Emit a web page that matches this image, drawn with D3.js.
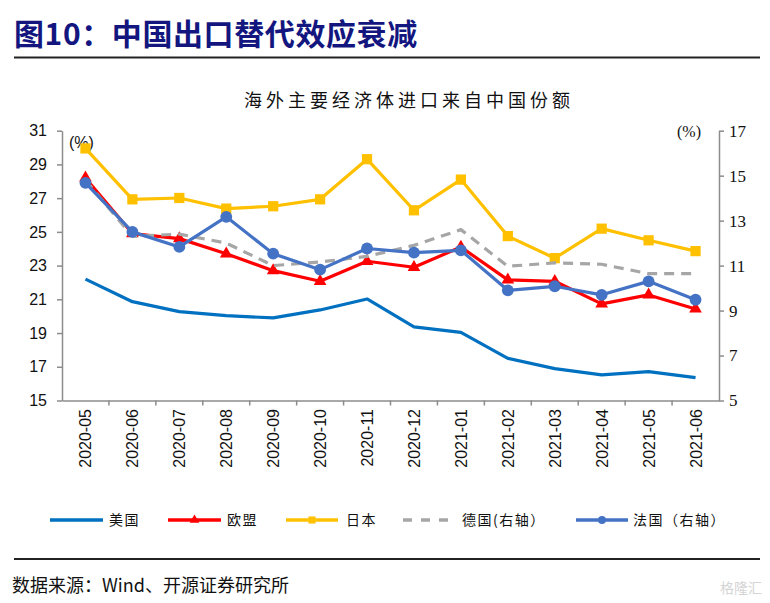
<!DOCTYPE html>
<html>
<head>
<meta charset="utf-8">
<script src="https://cdn.jsdelivr.net/npm/d3@7"></script>
<style>
  body { margin: 0; background: #fff; }
  svg { display: block; }
</style>
</head>
<body>
<svg id="chart" width="770" height="603"></svg>
<script>
const months = ["2020-05","2020-06","2020-07","2020-08","2020-09","2020-10","2020-11","2020-12","2021-01","2021-02","2021-03","2021-04","2021-05","2021-06"];
const usa     = [22.2, 20.86, 20.27, 20.03, 19.9, 20.37, 21.02, 19.37, 19.04, 17.5, 16.89, 16.52, 16.71, 16.36];
const eu      = [28.2, 24.9, 24.6, 23.7, 22.7, 22.07, 23.26, 22.9, 24.1, 22.15, 22.07, 20.73, 21.26, 20.43];
const japan   = [29.95, 26.93, 27.01, 26.38, 26.52, 26.93, 29.31, 26.28, 28.1, 24.75, 23.44, 25.19, 24.5, 23.86];
const germany = [14.8, 12.3, 12.4, 12.0, 11.0, 11.16, 11.41, 11.9, 12.6, 10.97, 11.12, 11.06, 10.64, 10.64];
const france  = [14.68, 12.5, 11.83, 13.17, 11.53, 10.82, 11.76, 11.58, 11.68, 9.9, 10.08, 9.7, 10.3, 9.48];
const leftTicks = [15, 17, 19, 21, 23, 25, 27, 29, 31];
const rightTicks = [5, 7, 9, 11, 13, 15, 17];

const svg = d3.select("#chart");
const L = 62, R = 719, T = 130.7, B = 400.5;

const x = d3.scaleBand().domain(months).range([L, R]);
const yL = d3.scaleLinear().domain([15, 31]).range([B, T]);
const yR = d3.scaleLinear().domain([5, 17]).range([B, T]);

// Title
svg.append("text").attr("x", 14).attr("y", 45)
  .attr("font-family", "'Noto Sans CJK SC', sans-serif").attr("font-weight", "bold")
  .attr("font-size", 30).attr("letter-spacing", 0.6).attr("fill", "#13167f").text("图10：中国出口替代效应衰减");
svg.append("line").attr("x1", 14).attr("x2", 760).attr("y1", 57.5).attr("y2", 57.5)
  .attr("stroke", "#222").attr("stroke-width", 2.2);

// Subtitle
svg.append("text").attr("x", 409).attr("y", 107).attr("text-anchor", "middle")
  .attr("font-family", "'Noto Sans CJK SC', sans-serif").attr("font-size", 18)
  .attr("letter-spacing", 4).attr("fill", "#111").text("海外主要经济体进口来自中国份额");

const axisColor = "#8c8c8c";
function styleAxis(g) {
  g.selectAll("path.domain").attr("stroke", axisColor).attr("stroke-width", 1.5);
  g.selectAll(".tick line").attr("stroke", axisColor).attr("stroke-width", 1.5);
}

// Left axis
const gL = svg.append("g").attr("transform", `translate(${L},0)`)
  .call(d3.axisLeft(yL).tickValues(leftTicks).tickSize(5).tickSizeOuter(0).tickPadding(10));
styleAxis(gL);
gL.selectAll(".tick text").attr("font-family", "Arial, 'Liberation Sans', sans-serif")
  .attr("font-size", 16).attr("fill", "#111");

// Right axis
const gR = svg.append("g").attr("transform", `translate(${R},0)`)
  .call(d3.axisRight(yR).tickValues(rightTicks).tickSize(5).tickSizeOuter(0).tickPadding(5));
styleAxis(gR);
gR.selectAll(".tick text").attr("font-family", "'Liberation Serif', 'Times New Roman', serif")
  .attr("font-size", 17).attr("fill", "#111");

// Bottom axis with ticks at band boundaries
const gB = svg.append("g").attr("transform", `translate(0,${B})`)
  .call(d3.axisBottom(x).tickSize(0).tickFormat(""));
styleAxis(gB);
gB.selectAll(".boundary").data(months.slice(1)).enter().append("line")
  .attr("x1", d => x(d)).attr("x2", d => x(d)).attr("y1", 0).attr("y2", 5)
  .attr("stroke", axisColor).attr("stroke-width", 1.5);
svg.selectAll(".xlab").data(months).enter().append("text")
  .attr("transform", d => `translate(${x(d) + x.bandwidth() / 2 + 6},409) rotate(-90)`)
  .attr("text-anchor", "end")
  .attr("font-family", "Arial, 'Liberation Sans', sans-serif").attr("font-size", 16)
  .attr("fill", "#111").text(d => d);

// Unit labels
svg.append("text").attr("x", 69).attr("y", 148)
  .attr("font-family", "Arial, 'Liberation Sans', sans-serif").attr("font-size", 16)
  .attr("fill", "#111").text("(%)");
svg.append("text").attr("x", 677).attr("y", 137)
  .attr("font-family", "'Liberation Serif', serif").attr("font-size", 16)
  .attr("fill", "#111").text("(%)");

const cx = d => x(d) + x.bandwidth() / 2;

function drawLine(values, scale, color, opts = {}) {
  const data = months.map((m, i) => ({ m, v: values[i] }));
  const line = d3.line().x(d => cx(d.m)).y(d => scale(d.v));
  svg.append("path").datum(data).attr("d", line).attr("fill", "none")
    .attr("stroke", color).attr("stroke-width", opts.width || 3.2)
    .attr("stroke-linejoin", "round")
    .attr("stroke-dasharray", opts.dash || null);
  if (opts.marker) {
    const sym = d3.symbol().type(opts.marker).size(opts.msize || 100);
    svg.selectAll(null).data(data).enter().append("path")
      .attr("d", sym)
      .attr("transform", d => `translate(${cx(d.m)},${scale(d.v)})`)
      .attr("fill", color);
  }
}

drawLine(usa, yL, "#0070c0");
drawLine(eu, yL, "#ff0000", { marker: d3.symbolTriangle, msize: 70 });
drawLine(japan, yL, "#ffc000", { marker: d3.symbolSquare, msize: 105 });
drawLine(germany, yR, "#a6a6a6", { dash: "10,7" });
drawLine(france, yR, "#4472c4", { marker: d3.symbolCircle, msize: 110 });

// Legend
const legend = [
  { name: "美国", color: "#0070c0", x1: 50, x2: 103, tx: 109 },
  { name: "欧盟", color: "#ff0000", x1: 168, x2: 221, tx: 227, marker: d3.symbolTriangle, ms: 40 },
  { name: "日本", color: "#ffc000", x1: 286, x2: 338, tx: 346, marker: d3.symbolSquare, ms: 50 },
  { name: "德国(右轴）", color: "#a6a6a6", x1: 403, x2: 457, tx: 462, dash: "9,9" },
  { name: "法国（右轴）", color: "#4472c4", x1: 576, x2: 628, tx: 633, marker: d3.symbolCircle, ms: 50 }
];
const ly = 520;
const lg = svg.append("g");
legend.forEach(d => {
  lg.append("line").attr("x1", d.x1).attr("x2", d.x2).attr("y1", ly).attr("y2", ly)
    .attr("stroke", d.color).attr("stroke-width", 3.5)
    .attr("stroke-dasharray", d.dash || null);
  if (d.marker) {
    lg.append("path").attr("d", d3.symbol().type(d.marker).size(d.ms)())
      .attr("transform", `translate(${(d.x1 + d.x2) / 2},${ly})`).attr("fill", d.color);
  }
  lg.append("text").attr("x", d.tx).attr("y", ly + 5)
    .attr("font-family", "'Noto Sans CJK SC', sans-serif").attr("font-size", 14)
    .attr("letter-spacing", 1.5).attr("fill", "#111").text(d.name);
});

// Footer
svg.append("line").attr("x1", 14).attr("x2", 760).attr("y1", 559).attr("y2", 559)
  .attr("stroke", "#222").attr("stroke-width", 2);
svg.append("text").attr("x", 12).attr("y", 592)
  .attr("font-family", "'Noto Sans CJK SC', sans-serif").attr("font-size", 18)
  .attr("fill", "#111").text("数据来源：Wind、开源证券研究所");
svg.append("text").attr("x", 762).attr("y", 593).attr("text-anchor", "end")
  .attr("font-family", "'Noto Sans CJK SC', sans-serif").attr("font-size", 14)
  .attr("fill", "#d4d4d4").text("格隆汇");
</script>
</body>
</html>
